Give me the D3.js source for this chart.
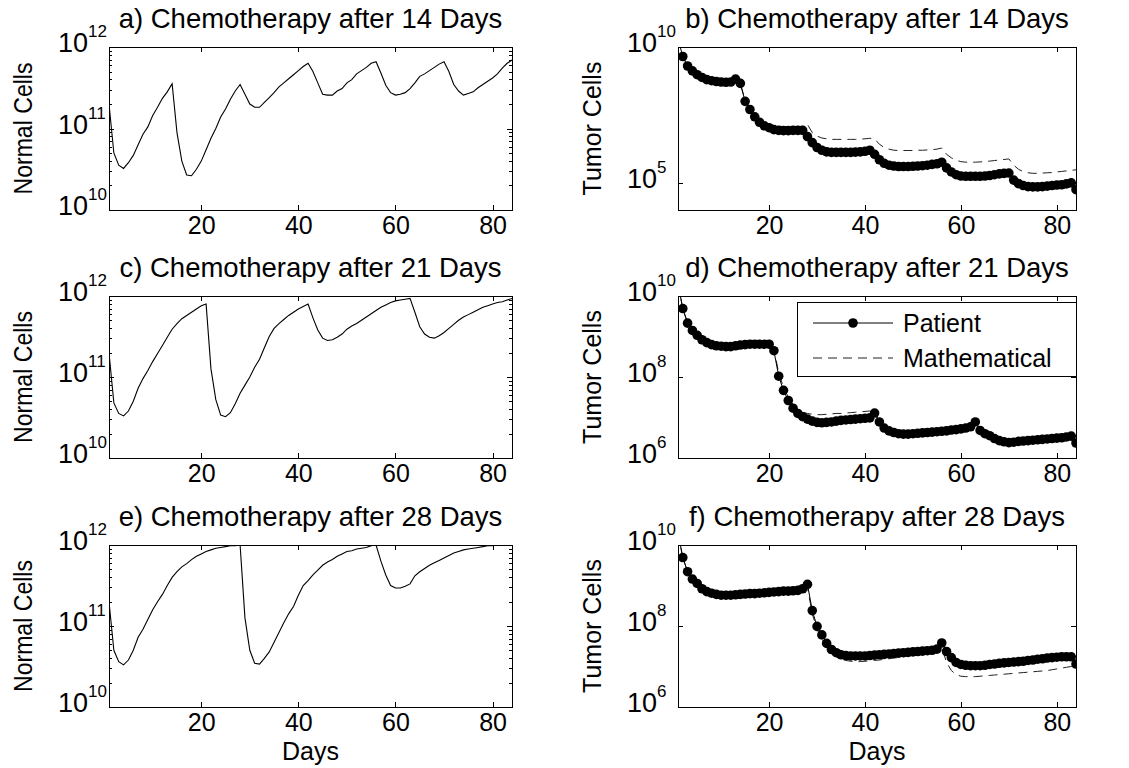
<!DOCTYPE html>
<html lang="en">
<head>
<meta charset="UTF-8">
<title>Chemotherapy schedules</title>
<script src="https://d3js.org/d3.v7.min.js"></script>
<style>
  body { margin: 0; background: #fff; }
  svg { display: block; font-family: "Liberation Sans", Arial, sans-serif; }
</style>
</head>
<body>
<svg width="1129" height="768"></svg>
<script>
// days 1..84, values stored as log10 of cell counts
const days = d3.range(1, 85);
const xTicks = [20, 40, 60, 80];

const normal14Log = [11.3,10.7,10.55,10.51,10.58,10.67,10.8,10.93,11.02,11.16,
  11.26,11.37,11.45,11.55,10.95,10.6,10.43,10.42,10.5,10.6,
  10.74,10.88,11.0,11.14,11.24,11.36,11.46,11.54,11.42,11.3,
  11.26,11.26,11.32,11.38,11.44,11.51,11.56,11.61,11.66,11.71,
  11.76,11.8,11.7,11.56,11.42,11.41,11.41,11.46,11.49,11.56,
  11.6,11.67,11.71,11.75,11.8,11.82,11.68,11.53,11.44,11.41,
  11.42,11.44,11.49,11.56,11.64,11.67,11.71,11.75,11.79,11.82,
  11.7,11.54,11.46,11.41,11.43,11.45,11.5,11.54,11.58,11.62,
  11.67,11.74,11.8,11.84];
const normal21Log = [11.3,10.68,10.55,10.52,10.58,10.7,10.86,10.98,11.08,11.19,
  11.29,11.39,11.49,11.59,11.66,11.72,11.76,11.8,11.84,11.88,
  11.9,11.1,10.72,10.53,10.51,10.56,10.67,10.8,10.9,11.0,
  11.12,11.22,11.36,11.5,11.6,11.66,11.71,11.76,11.8,11.84,
  11.87,11.9,11.73,11.58,11.48,11.45,11.46,11.49,11.53,11.59,
  11.63,11.66,11.7,11.74,11.78,11.82,11.86,11.89,11.92,11.94,
  11.95,11.96,11.97,11.8,11.62,11.53,11.49,11.48,11.51,11.55,
  11.6,11.65,11.7,11.74,11.77,11.8,11.83,11.86,11.88,11.9,
  11.92,11.93,11.95,11.97];
const normal28Log = [11.3,10.7,10.56,10.52,10.58,10.7,10.86,10.96,11.08,11.2,
  11.3,11.39,11.5,11.6,11.67,11.73,11.77,11.82,11.86,11.89,
  11.92,11.94,11.96,11.97,11.98,11.99,11.99,12.0,11.1,10.7,
  10.54,10.53,10.6,10.68,10.8,10.92,11.04,11.15,11.24,11.38,
  11.5,11.56,11.63,11.69,11.75,11.79,11.82,11.86,11.89,11.92,
  11.93,11.95,11.96,11.97,11.99,12.0,11.8,11.63,11.5,11.47,
  11.47,11.49,11.52,11.62,11.67,11.71,11.75,11.78,11.81,11.84,
  11.87,11.9,11.92,11.94,11.95,11.96,11.97,11.98,11.99,11.99,
  12.0,12.0,12.0,12.0];

const patient14Log = [10.3,9.65,9.3,9.12,8.98,8.88,8.8,8.76,8.73,8.71,
  8.7,8.71,8.82,8.66,8.0,7.7,7.43,7.23,7.1,7.03,
  6.96,6.93,6.92,6.92,6.93,6.93,6.93,6.7,6.48,6.3,
  6.2,6.14,6.12,6.12,6.12,6.12,6.12,6.13,6.14,6.16,
  6.2,6.05,5.85,5.72,5.65,5.62,5.6,5.6,5.6,5.61,
  5.62,5.63,5.65,5.68,5.7,5.76,5.55,5.4,5.3,5.25,
  5.24,5.24,5.24,5.24,5.25,5.27,5.3,5.33,5.35,5.36,
  5.1,4.97,4.9,4.86,4.85,4.85,4.86,4.88,4.9,4.92,
  4.93,4.96,5.0,4.75];
const model14Log = [10.3,9.65,9.3,9.12,8.98,8.88,8.8,8.76,8.73,8.71,
  8.7,8.71,8.77,8.64,8.05,7.75,7.5,7.33,7.22,7.15,
  7.1,7.08,7.07,7.07,7.07,7.07,7.08,7.15,6.85,6.72,
  6.65,6.62,6.6,6.6,6.6,6.6,6.6,6.6,6.61,6.62,
  6.64,6.62,6.42,6.3,6.24,6.2,6.19,6.19,6.19,6.19,
  6.2,6.2,6.21,6.22,6.24,6.28,6.05,5.92,5.83,5.78,
  5.76,5.76,5.76,5.77,5.78,5.8,5.82,5.84,5.86,5.88,
  5.65,5.5,5.41,5.37,5.35,5.35,5.36,5.37,5.38,5.4,
  5.42,5.44,5.46,5.48];

const patient21Log = [10.3,9.69,9.33,9.15,9.03,8.92,8.85,8.8,8.77,8.76,
  8.75,8.75,8.77,8.79,8.8,8.81,8.81,8.81,8.81,8.81,
  8.65,8.02,7.67,7.42,7.23,7.1,7.02,6.96,6.91,6.88,
  6.87,6.88,6.89,6.91,6.93,6.94,6.95,6.96,6.97,6.98,
  6.99,7.11,6.89,6.74,6.67,6.63,6.6,6.59,6.59,6.6,
  6.61,6.62,6.63,6.64,6.65,6.66,6.67,6.69,6.7,6.72,
  6.74,6.77,6.89,6.68,6.6,6.55,6.48,6.43,6.4,6.38,
  6.39,6.41,6.42,6.43,6.44,6.45,6.46,6.47,6.48,6.49,
  6.5,6.52,6.54,6.37];
const model21Log = [10.3,9.69,9.33,9.15,9.03,8.92,8.85,8.8,8.77,8.76,
  8.75,8.75,8.77,8.79,8.8,8.81,8.81,8.81,8.81,8.81,
  8.7,8.1,7.75,7.5,7.32,7.2,7.13,7.1,7.08,7.07,
  7.07,7.08,7.09,7.1,7.1,7.11,7.12,7.13,7.14,7.15,
  7.16,7.12,6.9,6.74,6.67,6.63,6.6,6.59,6.59,6.6,
  6.61,6.62,6.63,6.64,6.65,6.66,6.67,6.69,6.7,6.72,
  6.74,6.77,6.86,6.68,6.6,6.55,6.48,6.43,6.4,6.38,
  6.39,6.41,6.42,6.43,6.44,6.45,6.46,6.47,6.48,6.49,
  6.5,6.52,6.54,6.56];

const patient28Log = [10.3,9.69,9.34,9.16,9.05,8.92,8.85,8.81,8.78,8.76,
  8.76,8.76,8.77,8.78,8.79,8.8,8.8,8.81,8.82,8.83,
  8.84,8.85,8.86,8.86,8.87,8.88,8.92,9.03,8.38,7.99,
  7.78,7.57,7.42,7.34,7.29,7.27,7.26,7.26,7.26,7.26,
  7.27,7.28,7.29,7.3,7.31,7.32,7.33,7.34,7.35,7.36,
  7.37,7.38,7.39,7.4,7.43,7.58,7.37,7.22,7.1,7.05,
  7.03,7.02,7.02,7.02,7.03,7.05,7.06,7.08,7.09,7.1,
  7.11,7.12,7.13,7.15,7.16,7.18,7.19,7.21,7.22,7.23,
  7.24,7.24,7.24,7.06];
const model28Log = [10.3,9.69,9.34,9.16,9.05,8.92,8.85,8.81,8.78,8.76,
  8.76,8.76,8.77,8.78,8.79,8.8,8.8,8.81,8.82,8.83,
  8.84,8.85,8.86,8.86,8.87,8.88,8.9,8.95,8.3,7.92,
  7.68,7.48,7.33,7.24,7.18,7.15,7.13,7.12,7.12,7.13,
  7.14,7.15,7.16,7.18,7.19,7.21,7.22,7.24,7.26,7.28,
  7.3,7.32,7.34,7.36,7.38,7.48,7.1,6.9,6.8,6.76,
  6.75,6.75,6.75,6.76,6.77,6.78,6.79,6.8,6.81,6.82,
  6.83,6.84,6.85,6.86,6.87,6.88,6.89,6.9,6.92,6.94,
  6.96,6.98,7.0,7.03];

const titles = ["a) Chemotherapy after 14 Days", "b) Chemotherapy after 14 Days",
  "c) Chemotherapy after 21 Days", "d) Chemotherapy after 21 Days",
  "e) Chemotherapy after 28 Days", "f) Chemotherapy after 28 Days"];

const panels = [
  {row: 0, col: 0, normal: normal14Log},
  {row: 0, col: 1, patient: patient14Log, model: model14Log, domain: [1e4, 1e10], major: [1e5, 1e10]},
  {row: 1, col: 0, normal: normal21Log},
  {row: 1, col: 1, patient: patient21Log, model: model21Log, domain: [1e6, 1e10], major: [1e6, 1e8, 1e10], legend: true},
  {row: 2, col: 0, normal: normal28Log},
  {row: 2, col: 1, patient: patient28Log, model: model28Log, domain: [1e6, 1e10], major: [1e6, 1e8, 1e10]}
];

const cols = [{left: 109, right: 512}, {left: 678, right: 1076}];
const rows = [{top: 47, bottom: 210}, {top: 296, bottom: 458}, {top: 545, bottom: 707}];

const svg = d3.select("svg");
svg.append("rect").attr("width", 1129).attr("height", 768).attr("fill", "#fff");

const toSeries = arr => days.map((d, i) => ({day: d, v: Math.pow(10, arr[i])}));

panels.forEach((p, k) => {
  const {left, right} = cols[p.col];
  const {top, bottom} = rows[p.row];
  const isNormal = !!p.normal;
  const domain = isNormal ? [1e10, 1e12] : p.domain;
  const major = isNormal ? [1e10, 1e11, 1e12] : p.major;

  const x = d3.scaleLinear().domain([1, 84]).range([left, right]);
  const y = d3.scaleLog().domain(domain).range([bottom, top]);

  const g = svg.append("g");

  g.append("clipPath").attr("id", "clip" + k)
    .append("rect").attr("x", left).attr("y", top)
    .attr("width", right - left).attr("height", bottom - top);

  const plot = g.append("g").attr("clip-path", `url(#clip${k})`);
  const line = d3.line().x(d => x(d.day)).y(d => y(d.v));

  if (isNormal) {
    plot.append("path").datum(toSeries(p.normal))
      .attr("d", line).attr("fill", "none")
      .attr("stroke", "#000").attr("stroke-width", 1.1);
  } else {
    plot.append("path").datum(toSeries(p.model))
      .attr("d", line).attr("fill", "none")
      .attr("stroke", "#222").attr("stroke-width", 1)
      .attr("stroke-dasharray", "9,6");
    const pts = toSeries(p.patient);
    plot.append("path").datum(pts)
      .attr("d", line).attr("fill", "none")
      .attr("stroke", "#000").attr("stroke-width", 1);
    plot.selectAll("circle").data(pts).enter().append("circle")
      .attr("cx", d => x(d.day)).attr("cy", d => y(d.v))
      .attr("r", 4.8).attr("fill", "#000");
  }

  // ticks (inward, mirrored like a boxed axes)
  const styleAxis = sel => {
    sel.select(".domain").remove();
    sel.attr("font-size", null).attr("font-family", null);
    sel.selectAll("line").attr("stroke", "#000").attr("shape-rendering", "crispEdges");
    sel.selectAll("text").attr("fill", "#000");
  };

  g.append("g").attr("transform", `translate(0,${bottom})`)
    .call(d3.axisBottom(x).tickValues(xTicks).tickSize(-5).tickPadding(6).tickFormat(d3.format("d")))
    .call(styleAxis)
    .attr("font-size", 25);
  g.append("g").attr("transform", `translate(0,${top})`)
    .call(d3.axisTop(x).tickValues(xTicks).tickSize(-5).tickFormat(() => ""))
    .call(styleAxis);

  g.append("g").attr("transform", `translate(${left},0)`)
    .call(d3.axisLeft(y).tickValues(major).tickSize(-5).tickFormat(() => ""))
    .call(styleAxis);
  g.append("g").attr("transform", `translate(${right},0)`)
    .call(d3.axisRight(y).tickValues(major).tickSize(-5).tickFormat(() => ""))
    .call(styleAxis);

  if (isNormal) {
    const minor = [];
    [1e10, 1e11].forEach(base => d3.range(2, 10).forEach(m => minor.push(base * m)));
    g.append("g").attr("transform", `translate(${left},0)`)
      .call(d3.axisLeft(y).tickValues(minor).tickSize(-3).tickFormat(() => ""))
      .call(styleAxis);
    g.append("g").attr("transform", `translate(${right},0)`)
      .call(d3.axisRight(y).tickValues(minor).tickSize(-3).tickFormat(() => ""))
      .call(styleAxis);
  }

  // log tick labels 10^n
  major.forEach(v => {
    const n = Math.round(Math.log10(v));
    g.append("text").attr("x", left - 21).attr("y", y(v) + 5)
      .attr("text-anchor", "end").attr("font-size", 27).text("10");
    g.append("text").attr("x", left - 21).attr("y", y(v) - 10)
      .attr("text-anchor", "start").attr("font-size", 17).text(n);
  });

  // frame
  g.append("rect").attr("x", left).attr("y", top)
    .attr("width", right - left).attr("height", bottom - top)
    .attr("fill", "none").attr("stroke", "#000").attr("stroke-width", 1)
    .attr("shape-rendering", "crispEdges");

  g.append("text").attr("x", (left + right) / 2).attr("y", top - 19)
    .attr("text-anchor", "middle").attr("font-size", 27.5).text(titles[k]);

  const yl = g.append("text")
    .attr("transform", `translate(${p.col === 0 ? 23 : 592},${(top + bottom) / 2}) rotate(-90)`)
    .attr("text-anchor", "middle").attr("dy", "0.35em").attr("font-size", 25)
    .text(isNormal ? "Normal Cells" : "Tumor Cells");
  if (isNormal) yl.attr("textLength", 132).attr("lengthAdjust", "spacingAndGlyphs");

  if (p.row === 2) {
    g.append("text").attr("x", (left + right) / 2).attr("y", 760)
      .attr("text-anchor", "middle").attr("font-size", 25).text("Days");
  }

  if (p.legend) {
    const lg = g.append("g");
    lg.append("rect").attr("x", 797).attr("y", 302).attr("width", right - 797).attr("height", 74)
      .attr("fill", "#fff").attr("stroke", "#000").attr("shape-rendering", "crispEdges");
    lg.append("line").attr("x1", 813).attr("x2", 893).attr("y1", 323).attr("y2", 323)
      .attr("stroke", "#000");
    lg.append("circle").attr("cx", 853).attr("cy", 323).attr("r", 4.8).attr("fill", "#000");
    lg.append("text").attr("x", 903).attr("y", 332).attr("font-size", 25).text("Patient");
    lg.append("line").attr("x1", 813).attr("x2", 893).attr("y1", 358).attr("y2", 358)
      .attr("stroke", "#222").attr("stroke-dasharray", "9,6");
    lg.append("text").attr("x", 903).attr("y", 367).attr("font-size", 25).text("Mathematical");
  }
});
</script>
</body>
</html>
